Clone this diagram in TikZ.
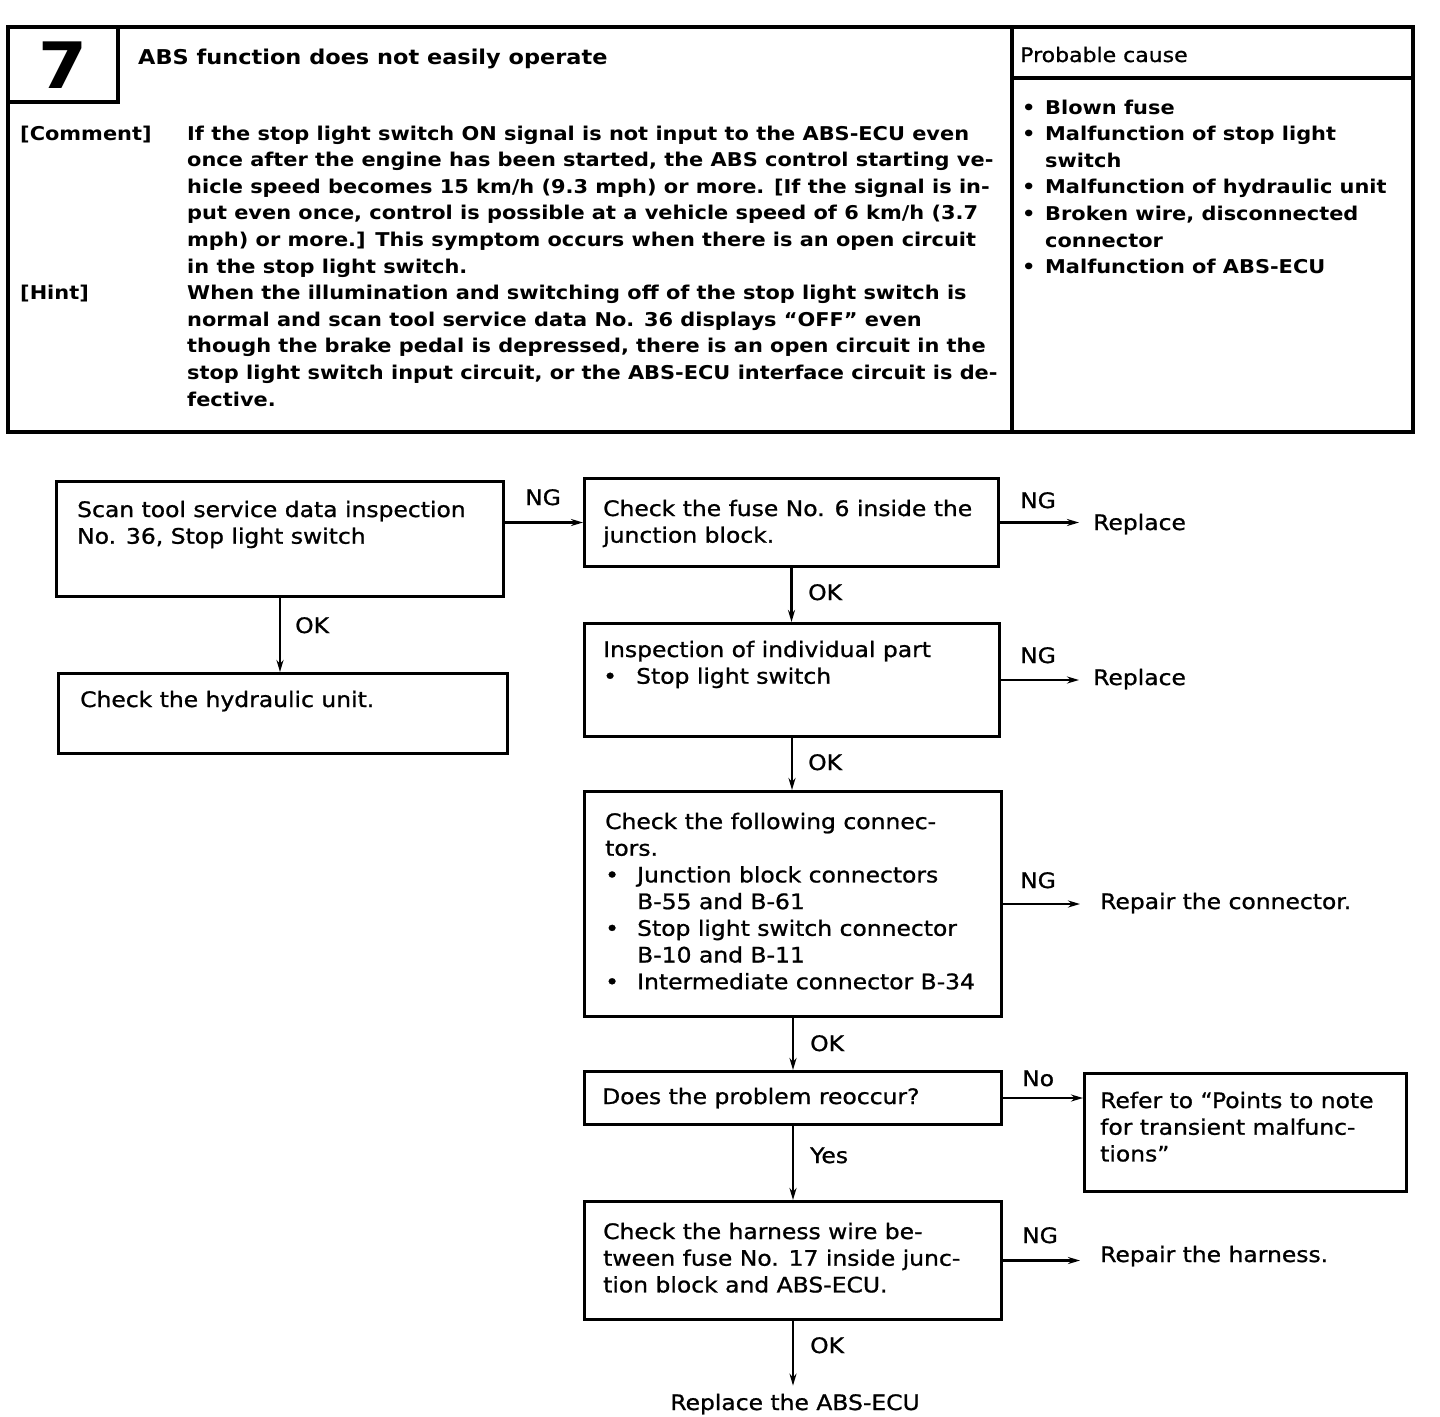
\documentclass[tikz,border=0pt]{standalone}
\usepackage{fontspec}
\setmainfont{DejaVu Sans}[FakeStretch=1.1]
\newfontfamily\medfont{DejaVu Sans}[FakeStretch=1.1, FakeBold=1]
\usetikzlibrary{arrows.meta}
\newcommand\tl[1]{\begin{tabular}[t]{@{}l@{}}#1\end{tabular}}
\tikzset{
  frame/.style={line width=3.2pt},
  fbox/.style={draw, line width=3pt, inner sep=0pt, anchor=north west},
  conn/.style={line width=2.4pt},
  arr/.style={conn, -{Stealth[length=12pt,width=7pt]}},
  ftxt/.style={inner sep=0pt, anchor=base west, font=\medfont\fontsize{21.3}{26.7}\selectfont},
  htxt/.style={inner sep=0pt, anchor=base west, font=\bfseries\fontsize{19}{26.6}\selectfont},
}
\begin{document}
\begin{tikzpicture}[x=1pt,y=-1pt]
\useasboundingbox (0,0) rectangle (1440,1416);
% ---------- header table ----------
\draw[frame] (8,27) rectangle (1413,432);
\draw[frame] (118,27) -- (118,102) -- (8,102);
\draw[frame] (1012,27) -- (1012,432);
\draw[frame] (1012,78) -- (1413,78);
\node[inner sep=0pt, font=\bfseries\fontsize{64}{64}\selectfont] (num) at (63,65) {7};
\node[htxt, font=\bfseries\fontsize{20.4}{26}\selectfont] (title) at (138,64) {ABS function does not easily operate};
\node[ftxt, font=\medfont\fontsize{20}{26}\selectfont] (pchead) at (1020,62) {Probable cause};
\node[htxt] (clab) at (20,140) {[Comment]};
\node[htxt] (hlab) at (20,299.6) {[Hint]};
\node[htxt] (ctext) at (187,140) {\tl{If the stop light switch ON signal is not input to the ABS-ECU even\\
once after the engine has been started, the ABS control starting ve-\\
hicle speed becomes 15 km/h (9.3 mph) or more. [If the signal is in-\\
put even once, control is possible at a vehicle speed of 6 km/h (3.7\\
mph) or more.] This symptom occurs when there is an open circuit\\
in the stop light switch.}};
\node[htxt] (htext) at (187,299.6) {\tl{When the illumination and switching off of the stop light switch is\\
normal and scan tool service data No. 36 displays “OFF” even\\
though the brake pedal is depressed, there is an open circuit in the\\
stop light switch input circuit, or the ABS-ECU interface circuit is de-\\
fective.}};
\node[htxt] (pclist) at (1022,114) {\begin{tabular}[t]{@{}p{23pt}@{}l@{}}
•& Blown fuse\\
•& Malfunction of stop light\\
 & switch\\
•& Malfunction of hydraulic unit\\
•& Broken wire, disconnected\\
 & connector\\
•& Malfunction of ABS-ECU\end{tabular}};
% ---------- flowchart boxes ----------
\node[fbox, minimum width=447pt, minimum height=115pt] (A) at (55,480) {};
\node[fbox, minimum width=449pt, minimum height=80pt]  (B) at (57,672) {};
\node[fbox, minimum width=414pt, minimum height=88pt]  (C) at (583,477) {};
\node[fbox, minimum width=415pt, minimum height=113pt] (D) at (583,622) {};
\node[fbox, minimum width=417pt, minimum height=225pt] (E) at (583,790) {};
\node[fbox, minimum width=417pt, minimum height=53pt]  (F) at (583,1070) {};
\node[fbox, minimum width=322pt, minimum height=118pt] (G) at (1083,1072) {};
\node[fbox, minimum width=417pt, minimum height=118pt] (H) at (583,1200) {};
% ---------- box texts ----------
\node[ftxt] (tA) at (77,517) {\tl{Scan tool service data inspection\\No. 36, Stop light switch}};
\node[ftxt] (tB) at (80,707) {Check the hydraulic unit.};
\node[ftxt] (tC) at (603,516) {\tl{Check the fuse No. 6 inside the\\junction block.}};
\node[ftxt] (tD) at (603,657) {\begin{tabular}[t]{@{}p{33pt}@{}l@{}}
\multicolumn{2}{@{}l@{}}{Inspection of individual part}\\
•& Stop light switch\end{tabular}};
\node[ftxt] (tE) at (605,829) {\begin{tabular}[t]{@{}p{32pt}@{}l@{}}
\multicolumn{2}{@{}l@{}}{Check the following connec-}\\
\multicolumn{2}{@{}l@{}}{tors.}\\
•& Junction block connectors\\
 & B-55 and B-61\\
•& Stop light switch connector\\
 & B-10 and B-11\\
•& Intermediate connector B-34\end{tabular}};
\node[ftxt] (tF) at (602,1104) {Does the problem reoccur?};
\node[ftxt] (tG) at (1100,1108) {\tl{Refer to “Points to note\\for transient malfunc-\\tions”}};
\node[ftxt] (tH) at (603,1239) {\tl{Check the harness wire be-\\tween fuse No. 17 inside junc-\\tion block and ABS-ECU.}};
% ---------- result texts ----------
\node[ftxt] (r1) at (1093,530) {Replace};
\node[ftxt] (r2) at (1093,685) {Replace};
\node[ftxt] (r3) at (1100,909) {Repair the connector.};
\node[ftxt] (r4) at (1100,1262) {Repair the harness.};
\node[ftxt, anchor=base] (r5) at (795,1410) {Replace the ABS-ECU};
% ---------- connectors ----------
\draw[arr] (A.east |- C.west) -- (C.west);
\draw[arr] (A.south) -- (A.south |- B.north);
\draw[arr] (C.east) -- ([xshift=-14pt]C.east -| r1.west);
\draw[arr] (C.south) -- (C.south |- D.north);
\draw[arr] (D.east) -- ([xshift=-14pt]D.east -| r2.west);
\draw[arr] (D.south) -- (D.south |- E.north);
\draw[arr] (E.east) -- ([xshift=-20pt]E.east -| r3.west);
\draw[arr] (E.south) -- (E.south |- F.north);
\draw[arr] (F.east) -- (F.east -| G.west);
\draw[arr] (F.south) -- (F.south |- H.north);
\draw[arr] (H.east) -- ([xshift=-20pt]H.east -| r4.west);
\draw[arr] (H.south) -- ([yshift=8pt]H.south |- r5.north);
% ---------- connector labels ----------
\node[ftxt] (l1) at (525,505) {NG};
\node[ftxt] (l2) at (295,633) {OK};
\node[ftxt] (l3) at (1020,508) {NG};
\node[ftxt] (l4) at (808,600) {OK};
\node[ftxt] (l5) at (1020,663) {NG};
\node[ftxt] (l6) at (808,770) {OK};
\node[ftxt] (l7) at (1020,888) {NG};
\node[ftxt] (l8) at (810,1051) {OK};
\node[ftxt] (l9) at (1022,1086) {No};
\node[ftxt] (l10) at (810,1163) {Yes};
\node[ftxt] (l11) at (1022,1243) {NG};
\node[ftxt] (l12) at (810,1353) {OK};
\end{tikzpicture}
\end{document}
